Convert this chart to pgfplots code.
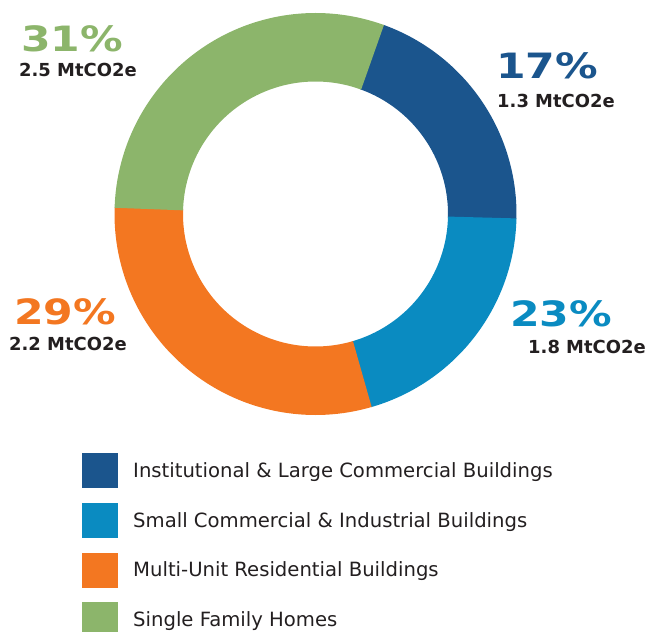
\documentclass[border=0pt]{standalone}
\usepackage{pgfplots}
\pgfplotsset{compat=1.18}
\usepgfplotslibrary{polar}
\usepackage{fontspec}
\setmainfont{DejaVu Sans}
\definecolor{cDark}{HTML}{1B558D}
\definecolor{cLight}{HTML}{0A8BC1}
\definecolor{cOrange}{HTML}{F37721}
\definecolor{cGreen}{HTML}{8CB56B}
\definecolor{cText}{HTML}{231F20}
\begin{document}
\begin{tikzpicture}
\path[use as bounding box] (0,0) rectangle (646bp,632bp);
\begin{polaraxis}[
  at={(315.5bp,418bp)}, anchor=origin,
  width=402bp, height=402bp, scale only axis,
  xmin=0, xmax=360, ymin=0, ymax=201, hide axis, clip=false,
  legend style={at={(axis description cs:-0.0808,-0.0945)}, anchor=north west,
    draw=none, fill=none, inner sep=0pt, row sep=14.7bp, column sep=15bp,
    font=\fontsize{19.7}{23}\selectfont, text=cText, nodes={inner sep=0pt}},
  legend cell align=left,
]
% Institutional & Large Commercial Buildings: 17 %
\addplot[cDark, line width=68.5bp, domain=-1.5:70.3, samples=90,
  legend image code/.code={\path[fill=cDark, draw=none, line width=0pt] (0bp,-17.5bp) rectangle (36bp,17.5bp);}] {166.75};
% Small Commercial & Industrial Buildings: 23 %
\addplot[cLight, line width=68.5bp, domain=-74:-1.2, samples=90,
  legend image code/.code={\path[fill=cLight, draw=none, line width=0pt] (0bp,-17.5bp) rectangle (36bp,17.5bp);}] {166.75};
% Multi-Unit Residential Buildings: 29 %
\addplot[cOrange, line width=68.5bp, domain=-182:-73.7, samples=120,
  legend image code/.code={\path[fill=cOrange, draw=none, line width=0pt] (0bp,-17.5bp) rectangle (36bp,17.5bp);}] {166.75};
% Single Family Homes: 31 %
\addplot[cGreen, line width=68.5bp, domain=70.0:178.3, samples=120,
  legend image code/.code={\path[fill=cGreen, draw=none, line width=0pt] (0bp,-17.5bp) rectangle (36bp,17.5bp);}] {166.75};
\legend{Institutional \& Large Commercial Buildings,
        Small Commercial \& Industrial Buildings,
        Multi-Unit Residential Buildings,
        Single Family Homes}
\end{polaraxis}
\begin{scope}[every node/.style={inner sep=0pt, anchor=base west}]
\node[text=cGreen, xscale=1.22] at (21bp,580bp) {\fontsize{35}{40}\selectfont\bfseries 31\%};
\node[text=cText] at (19bp,555bp) {\fontsize{18}{22}\selectfont\bfseries 2.5 MtCO2e};
\node[text=cDark, xscale=1.22] at (496bp,553bp) {\fontsize{35}{40}\selectfont\bfseries 17\%};
\node[text=cText] at (497bp,524bp) {\fontsize{18}{22}\selectfont\bfseries 1.3 MtCO2e};
\node[text=cOrange, xscale=1.22] at (14bp,307bp) {\fontsize{35}{40}\selectfont\bfseries 29\%};
\node[text=cText] at (9bp,281bp) {\fontsize{18}{22}\selectfont\bfseries 2.2 MtCO2e};
\node[text=cLight, xscale=1.22] at (510bp,305bp) {\fontsize{35}{40}\selectfont\bfseries 23\%};
\node[text=cText] at (528bp,278bp) {\fontsize{18}{22}\selectfont\bfseries 1.8 MtCO2e};
\end{scope}
\end{tikzpicture}
\end{document}
